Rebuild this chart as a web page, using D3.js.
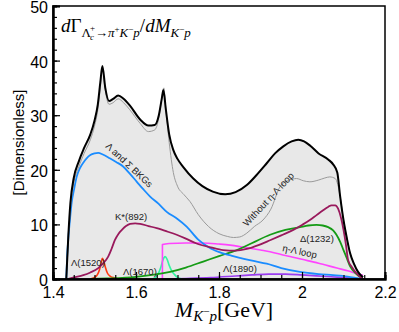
<!DOCTYPE html>
<html>
<head>
<meta charset="utf-8">
<script src="https://cdn.jsdelivr.net/npm/d3@7"></script>
<style>
  body { margin: 0; background: #fff; }
  svg { display: block; }
</style>
</head>
<body>
<div id="chart"></div>
<script>
// ---- data ----
const xTicks = [1.4, 1.6, 1.8, 2.0, 2.2]
const xTickLabels = ["1.4", "1.6", "1.8", "2", "2.2"]
const yTicks = [0, 10, 20, 30, 40, 50]

const totalM = [1.432, 1.437, 1.442, 1.45, 1.462, 1.475, 1.49, 1.5, 1.508, 1.514, 1.519, 1.526, 1.535, 1.545, 1.557, 1.57, 1.585, 1.61, 1.63, 1.645, 1.655, 1.662, 1.666, 1.672, 1.68, 1.69, 1.70, 1.714, 1.738, 1.76, 1.785, 1.815, 1.84, 1.867, 1.89, 1.915, 1.935, 1.955, 1.975, 1.991, 2.005, 2.02, 2.04, 2.063, 2.075, 2.085, 2.092, 2.1, 2.108, 2.116, 2.125, 2.135, 2.147]
const totalV = [0, 8, 14, 18.5, 21.5, 24, 26.5, 29, 32, 36, 39, 35, 32.6, 33, 33.6, 33, 31.8, 29.2, 28.1, 28.2, 30, 33, 34.6, 31, 26.5, 23.6, 22, 20.5, 18.4, 17, 16, 15.5, 15.9, 17.2, 19, 21.2, 23, 24.3, 25.2, 25.5, 25.2, 24.4, 23.0, 21.9, 21, 19.5, 15.1, 10.8, 7.5, 4.7, 2.8, 1.3, 0.3]

const noLoopM = [1.432, 1.437, 1.442, 1.45, 1.462, 1.475, 1.49, 1.5, 1.508, 1.514, 1.519, 1.526, 1.535, 1.545, 1.557, 1.57, 1.585, 1.61, 1.63, 1.645, 1.655, 1.662, 1.667, 1.672, 1.68, 1.69, 1.70, 1.715, 1.73, 1.75, 1.775, 1.80, 1.82, 1.835, 1.85, 1.867, 1.885, 1.906, 1.925, 1.947, 1.965, 1.987, 2.003, 2.019, 2.039, 2.055, 2.067, 2.08, 2.092, 2.1, 2.108, 2.116, 2.125, 2.135, 2.147]
const noLoopV = [0, 7.5, 13, 17.5, 20.5, 23, 25.5, 28, 31, 35, 38.6, 34.5, 32, 32.3, 33, 32.3, 31, 28.5, 27, 27.3, 29.5, 33, 35, 31, 25, 19.5, 17, 15.5, 14.2, 11.8, 9.6, 8.3, 7.8, 7.6, 7.7, 8.4, 9.6, 10.8, 12.8, 16.9, 18, 18.4, 18, 17.8, 18.1, 18.5, 18.7, 18.4, 15.1, 10.8, 7.5, 4.7, 2.8, 1.3, 0.3]

const bkgM = [1.432, 1.434, 1.437, 1.441, 1.445, 1.451, 1.457, 1.465, 1.473, 1.481, 1.49, 1.5, 1.509, 1.52, 1.537, 1.553, 1.569, 1.585, 1.602, 1.618, 1.634, 1.654, 1.674, 1.7, 1.722, 1.75, 1.78, 1.81, 1.834, 1.86, 1.883, 1.915, 1.95, 1.995, 2.04, 2.075, 2.11, 2.147]
const bkgV = [0, 4, 7.5, 11, 14, 16.5, 18.7, 20.3, 21.3, 22.1, 22.7, 23, 23.1, 22.8, 22.1, 21.4, 20.6, 19.3, 17.8, 16.4, 15.1, 13.8, 12.3, 11.0, 9.6, 7.2, 5.6, 4.7, 4.2, 3.7, 3.3, 2.8, 2.0, 1.3, 0.9, 0.7, 0.45, 0]

const kstarM = [1.435, 1.45, 1.473, 1.49, 1.509, 1.52, 1.533, 1.541, 1.549, 1.558, 1.566, 1.576, 1.586, 1.598, 1.61, 1.63, 1.65, 1.675, 1.698, 1.72, 1.746, 1.78, 1.81, 1.84, 1.867, 1.895, 1.923, 1.95, 1.979, 2.0, 2.019, 2.035, 2.051, 2.063, 2.071, 2.08, 2.087, 2.094, 2.1, 2.106, 2.111, 2.12, 2.132, 2.147]
const kstarV = [0, 0.3, 0.7, 1.2, 2.0, 2.8, 4.1, 5.5, 7.1, 8.3, 9.0, 9.7, 10.1, 10.2, 10.1, 9.7, 9.3, 8.7, 8.1, 7.4, 6.5, 5.8, 5.3, 5.2, 5.5, 6.2, 7.1, 8.0, 9.0, 9.9, 10.8, 11.7, 12.6, 13.2, 13.5, 13.5, 12.9, 11.2, 9.0, 6.2, 3.5, 2.2, 1.0, 0]

const deltaM = [1.49, 1.53, 1.6, 1.682, 1.72, 1.762, 1.8, 1.843, 1.88, 1.923, 1.96, 1.995, 2.015, 2.035, 2.05, 2.063, 2.075, 2.083, 2.092, 2.1, 2.108, 2.116, 2.13, 2.147]
const deltaV = [0, 0.1, 0.4, 1.3, 2.1, 3.2, 4.2, 5.3, 6.6, 8.1, 9.0, 9.5, 9.8, 9.9, 9.8, 9.5, 8.9, 8.1, 6.8, 5.3, 3.8, 2.3, 1.0, 0]

const loopM = [1.6636, 1.6637, 1.68, 1.72, 1.762, 1.8, 1.827, 1.86, 1.9, 1.923, 1.96, 2.0, 2.04, 2.084, 2.11, 2.132, 2.147]
const loopV = [0, 6.3, 6.5, 6.6, 6.6, 6.4, 6.2, 5.8, 5.3, 5.0, 4.3, 3.6, 2.9, 2.0, 1.5, 1.0, 0.7]

const l1520M = [1.49, 1.5, 1.507, 1.512, 1.516, 1.519, 1.522, 1.526, 1.531, 1.538, 1.548, 1.56]
const l1520V = [0, 0.3, 0.8, 1.7, 3.0, 3.8, 3.4, 2.2, 1.1, 0.5, 0.2, 0]

const l1670M = [1.64, 1.648, 1.655, 1.66, 1.665, 1.67, 1.675, 1.68, 1.686, 1.693, 1.70, 1.71]
const l1670V = [0, 0.4, 1.2, 2.2, 3.5, 4.1, 3.6, 2.5, 1.5, 0.8, 0.3, 0]

const l1890M = [1.66, 1.72, 1.78, 1.84, 1.88, 1.92, 1.96, 2.0, 2.05, 2.1, 2.147]
const l1890V = [0, 0.1, 0.25, 0.55, 0.75, 0.9, 0.9, 0.75, 0.5, 0.25, 0]

const width = 399, height = 332
const margin = {top: 6, right: 14, bottom: 53, left: 53}

const svg = d3.select("#chart").append("svg")
    .attr("width", width)
    .attr("height", height)

const x = d3.scaleLinear().domain([1.4, 2.2]).range([margin.left, width - margin.right])
const y = d3.scaleLinear().domain([0, 50]).range([height - margin.bottom, margin.top])

const zip = (ms, vs) => ms.map((m, i) => [m, vs[i]])

svg.append("clipPath").attr("id", "clip")
    .append("rect")
    .attr("x", margin.left).attr("y", margin.top)
    .attr("width", x(2.2) - x(1.4)).attr("height", y(0) - y(50) + 1)

const plot = svg.append("g").attr("clip-path", "url(#clip)")

const line = d3.line().x(d => x(d[0])).y(d => y(d[1])).curve(d3.curveMonotoneX)
const area = d3.area().x(d => x(d[0])).y0(y(0)).y1(d => y(d[1])).curve(d3.curveMonotoneX)

plot.append("path").datum(zip(totalM, totalV))
    .attr("fill", "#e8e8e8").attr("d", area)

const series = [
    {m: l1890M, v: l1890V, color: "#9a3cf0", w: 1.6},
    {m: l1520M, v: l1520V, color: "#ff3a10", w: 1.6},
    {m: l1670M, v: l1670V, color: "#33f5a0", w: 1.6},
    {m: loopM, v: loopV, color: "#ff44ff", w: 1.6},
    {m: deltaM, v: deltaV, color: "#159b15", w: 1.8},
    {m: bkgM, v: bkgV, color: "#1a8cff", w: 1.8},
    {m: kstarM, v: kstarV, color: "#99195c", w: 1.8},
    {m: noLoopM, v: noLoopV, color: "#9a9a9a", w: 1},
    {m: totalM, v: totalV, color: "#000", w: 2}
]

series.forEach(s => {
    plot.append("path").datum(zip(s.m, s.v))
        .attr("fill", "none")
        .attr("stroke", s.color)
        .attr("stroke-width", s.w)
        .attr("stroke-linejoin", "round")
        .attr("d", line)
})

// frame
svg.append("rect")
    .attr("x", margin.left).attr("y", margin.top)
    .attr("width", x(2.2) - x(1.4)).attr("height", y(0) - y(50))
    .attr("fill", "none").attr("stroke", "#000").attr("stroke-width", 1.5)

// axes, ticks inward
const xAxis = svg.append("g").attr("transform", `translate(0,${y(0)})`)
    .call(d3.axisBottom(x).tickValues(xTicks).tickSize(-7).tickPadding(8)
        .tickFormat((d, i) => xTickLabels[i]))
xAxis.append("g").call(d3.axisBottom(x).tickValues(d3.range(1.4, 2.2001, 0.05)).tickSize(-4).tickFormat(""))

const yAxis = svg.append("g").attr("transform", `translate(${x(1.4)},0)`)
    .call(d3.axisLeft(y).tickValues(yTicks).tickSize(-7).tickPadding(5))
yAxis.append("g").call(d3.axisLeft(y).tickValues(d3.range(0, 50.01, 2)).tickSize(-4).tickFormat(""))
yAxis.selectAll(".tick text").attr("dy", "0.4em")

svg.selectAll(".domain").attr("stroke", "#000").attr("stroke-width", 2)
svg.selectAll(".tick line").attr("stroke", "#000").attr("stroke-width", 1.2)
svg.selectAll(".tick text")
    .attr("font-family", "Liberation Sans, Arial, sans-serif")
    .attr("font-size", 16).attr("fill", "#000")

// y title
svg.append("text")
    .attr("transform", `translate(24,${(y(0) + y(50)) / 2}) rotate(-90)`)
    .attr("text-anchor", "middle")
    .attr("font-family", "Liberation Sans, Arial, sans-serif")
    .attr("font-size", 15)
    .text("[Dimensionless]")

// x title
const xt = svg.append("text")
    .attr("x", 224).attr("y", 317)
    .attr("text-anchor", "middle")
    .attr("font-family", "Liberation Serif, Times New Roman, serif")
    .attr("font-size", 22)
xt.append("tspan").attr("font-style", "italic").text("M")
xt.append("tspan").attr("font-style", "italic").attr("font-size", 15).attr("dy", 4).text("K")
xt.append("tspan").attr("font-size", 11).attr("dy", -6).text("\u2212")
xt.append("tspan").attr("font-style", "italic").attr("font-size", 15).attr("dy", 6).text("p")
xt.append("tspan").attr("dy", -4).text("[GeV]")

// plot title
const tt = svg.append("text")
    .attr("x", 61).attr("y", 32)
    .attr("font-family", "Liberation Serif, Times New Roman, serif")
    .attr("font-size", 19)
tt.append("tspan").attr("font-style", "italic").text("d")
tt.append("tspan").text("\u0393")
tt.append("tspan").attr("font-size", 13).attr("dy", 5).text("\u039B")
tt.append("tspan").attr("font-size", 9).attr("font-style", "italic").attr("dy", 3).attr("dx", -1).text("c")
tt.append("tspan").attr("font-size", 9).attr("dy", -9).attr("dx", -4).text("+")
tt.append("tspan").attr("font-size", 13).attr("dy", 6).text("\u2192")
tt.append("tspan").attr("font-size", 13).attr("font-style", "italic").text("\u03C0")
tt.append("tspan").attr("font-size", 9).attr("dy", -5).text("+")
tt.append("tspan").attr("font-size", 13).attr("font-style", "italic").attr("dy", 5).text("K")
tt.append("tspan").attr("font-size", 9).attr("dy", -5).text("\u2212")
tt.append("tspan").attr("font-size", 13).attr("font-style", "italic").attr("dy", 5).text("p")
tt.append("tspan").attr("dy", -5).text("/")
tt.append("tspan").attr("font-style", "italic").text("dM")
tt.append("tspan").attr("font-size", 13).attr("font-style", "italic").attr("dy", 5).text("K")
tt.append("tspan").attr("font-size", 9).attr("dy", -5).text("\u2212")
tt.append("tspan").attr("font-size", 13).attr("font-style", "italic").attr("dy", 5).text("p")

// curve labels
const labels = [
    {t: "\u039B and \u03A3 BKGs", x: 105, y: 147, r: 43},
    {t: "Without \u03B7-\u039B loop", x: 247, y: 227, r: -47},
    {t: "K*(892)", x: 115, y: 220, r: 0},
    {t: "\u039B(1520)", x: 71, y: 266, r: 0},
    {t: "\u039B(1670)", x: 123, y: 275, r: 0},
    {t: "\u039B(1890)", x: 223, y: 272, r: 0},
    {t: "\u0394(1232)", x: 300, y: 242, r: 0},
    {t: "\u03B7-\u039B loop", x: 282, y: 251, r: 12}
]
labels.forEach(l => {
    svg.append("text")
        .attr("transform", `translate(${l.x},${l.y}) rotate(${l.r})`)
        .attr("font-family", "Liberation Sans, Arial, sans-serif")
        .attr("font-size", 9.5)
        .attr("fill", "#222")
        .text(l.t)
})
</script>
</body>
</html>
